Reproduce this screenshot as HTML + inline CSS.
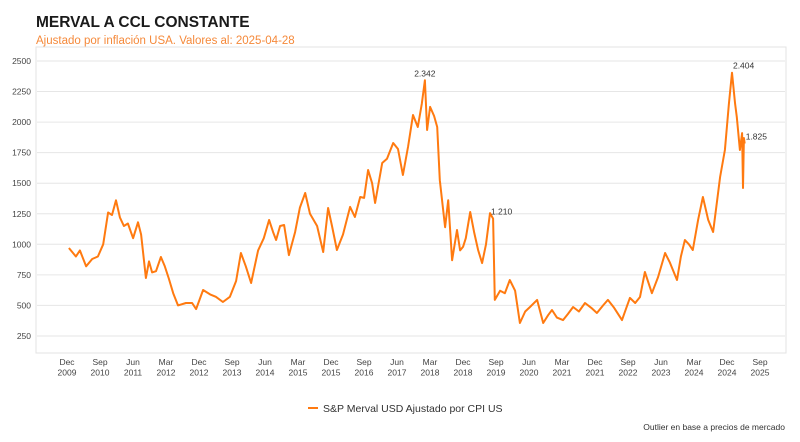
<!DOCTYPE html>
<html><head><meta charset="utf-8"><style>
body{margin:0;background:#fff;}
svg{display:block;font-family:"Liberation Sans",sans-serif;}
</style></head><body>
<svg width="800" height="442" viewBox="0 0 800 442">
<text x="36" y="27" font-size="15.5" font-weight="bold" fill="#1a1a1a">MERVAL A CCL CONSTANTE</text>
<text x="36" y="44" font-size="11.5" fill="#f5893a">Ajustado por inflación USA. Valores al: 2025-04-28</text>
<rect x="36" y="47" width="750" height="306" fill="none" stroke="#e3e3e3"/>
<g id="grid"></g><g id="yticks"></g><g id="xticks"></g>
<path id="line" fill="none" stroke="#ff7a10" stroke-width="2" stroke-linejoin="round"/>
<g id="ann" font-size="8.5" fill="#333"></g>
<g>
<line x1="308" y1="408" x2="318" y2="408" stroke="#ff7a10" stroke-width="2"/>
<text x="323" y="412" font-size="10.5" fill="#333">S&amp;P Merval USD Ajustado por CPI US</text>
</g>
<text x="785" y="430" font-size="8.5" fill="#333" text-anchor="end">Outlier en base a precios de mercado</text>
</svg>
<script>
const dates=[2009.96,2010.12,2010.21,2010.35,2010.49,2010.62,2010.74,2010.85,2010.94,2011.03,2011.12,2011.21,2011.30,2011.42,2011.53,2011.60,2011.71,2011.78,2011.85,2011.94,2012.05,2012.14,2012.23,2012.33,2012.44,2012.62,2012.76,2012.85,2013.01,2013.17,2013.30,2013.46,2013.62,2013.76,2013.87,2013.98,2014.10,2014.26,2014.39,2014.51,2014.60,2014.67,2014.76,2014.85,2014.96,2015.10,2015.21,2015.33,2015.44,2015.60,2015.74,2015.85,2015.94,2016.05,2016.19,2016.35,2016.46,2016.58,2016.67,2016.76,2016.85,2016.92,2017.08,2017.19,2017.33,2017.44,2017.55,2017.67,2017.78,2017.89,2017.98,2018.05,2018.10,2018.17,2018.26,2018.33,2018.39,2018.51,2018.58,2018.67,2018.78,2018.85,2018.92,2018.98,2019.08,2019.17,2019.26,2019.35,2019.44,2019.53,2019.60,2019.64,2019.76,2019.87,2019.98,2020.10,2020.21,2020.33,2020.44,2020.60,2020.74,2020.85,2020.94,2021.05,2021.19,2021.30,2021.42,2021.55,2021.69,2021.83,2021.96,2022.10,2022.21,2022.35,2022.53,2022.62,2022.71,2022.83,2022.94,2023.05,2023.21,2023.35,2023.51,2023.62,2023.78,2023.87,2023.96,2024.05,2024.14,2024.26,2024.37,2024.49,2024.60,2024.69,2024.76,2024.87,2024.96,2025.03,2025.10,2025.14,2025.21,2025.26,2025.28,2025.30,2025.32];
const values=[970,900,950,820,880,900,1000,1260,1240,1360,1220,1150,1170,1050,1180,1080,724,860,770,780,896,820,720,600,500,520,520,470,626,590,570,528,570,700,929,820,683,950,1050,1199,1100,1035,1150,1158,912,1100,1300,1420,1250,1150,937,1297,1150,953,1080,1306,1223,1387,1380,1608,1500,1338,1665,1700,1829,1780,1567,1800,2058,1960,2150,2342,1935,2124,2050,1960,1525,1140,1361,870,1117,950,980,1050,1264,1100,953,846,1000,1255,1210,545,620,600,708,620,356,450,487,545,356,420,462,400,380,430,487,450,520,480,438,500,545,480,380,470,561,520,569,773,600,732,929,850,708,900,1035,1000,953,1200,1387,1200,1101,1350,1551,1772,2150,2404,2150,2042,1772,1910,1461,1870,1825];
const yTicks=[250,500,750,1000,1250,1500,1750,2000,2250,2500];
const xTickLabels=[["Dec","2009"],["Sep","2010"],["Jun","2011"],["Mar","2012"],["Dec","2012"],["Sep","2013"],["Jun","2014"],["Mar","2015"],["Dec","2015"],["Sep","2016"],["Jun","2017"],["Mar","2018"],["Dec","2018"],["Sep","2019"],["Jun","2020"],["Mar","2021"],["Dec","2021"],["Sep","2022"],["Jun","2023"],["Mar","2024"],["Dec","2024"],["Sep","2025"]];
const annotations=[[2018.05,2342,"2.342","middle"],[2025.03,2404,"2.404","start"],[2019.53,1210,"1.210","start"],[2025.32,1825,"1.825","start"]];
const xS=t=>67+(t-2009.917)*44;
const yS=v=>61+(2500-v)*0.1222;
const NS="http://www.w3.org/2000/svg";
function mk(tag,attrs,parent){const e=document.createElementNS(NS,tag);for(const k in attrs)e.setAttribute(k,attrs[k]);parent.appendChild(e);return e;}
const grid=document.getElementById('grid'),yt=document.getElementById('yticks'),xt=document.getElementById('xticks'),ann=document.getElementById('ann');
yTicks.forEach(v=>{
 const l=mk('line',{x1:37,x2:785,y1:yS(v),y2:yS(v),stroke:'#e6e6e6','stroke-width':1},grid);
 
 
 const t=mk('text',{x:31,y:yS(v)+3,'font-size':8.5,fill:'#444','text-anchor':'end'},yt);
 
 
 t.textContent=v;
});
xTickLabels.forEach((p,i)=>{
 const x=xS(2009.917+i*0.75);
 const t=mk('text',{x:x,y:365,'font-size':8.5,fill:'#444','text-anchor':'middle'},xt);
 
 
 mk('tspan',{x:x,dy:0},t).textContent=p[0];
 mk('tspan',{x:x,dy:10.5},t).textContent=p[1];
});
let d='';dates.forEach((t,i)=>{d+=(i?'L':'M')+xS(t).toFixed(1)+','+yS(values[i]).toFixed(1);});
document.getElementById('line').setAttribute('d',d);
annotations.forEach(a=>{
 const t=mk('text',{x:xS(a[0])+(a[3]==='start'?1:0),y:yS(a[1])-4,'text-anchor':a[3]},ann);
 
 
 t.textContent=a[2];
});
</script>
</body></html>
